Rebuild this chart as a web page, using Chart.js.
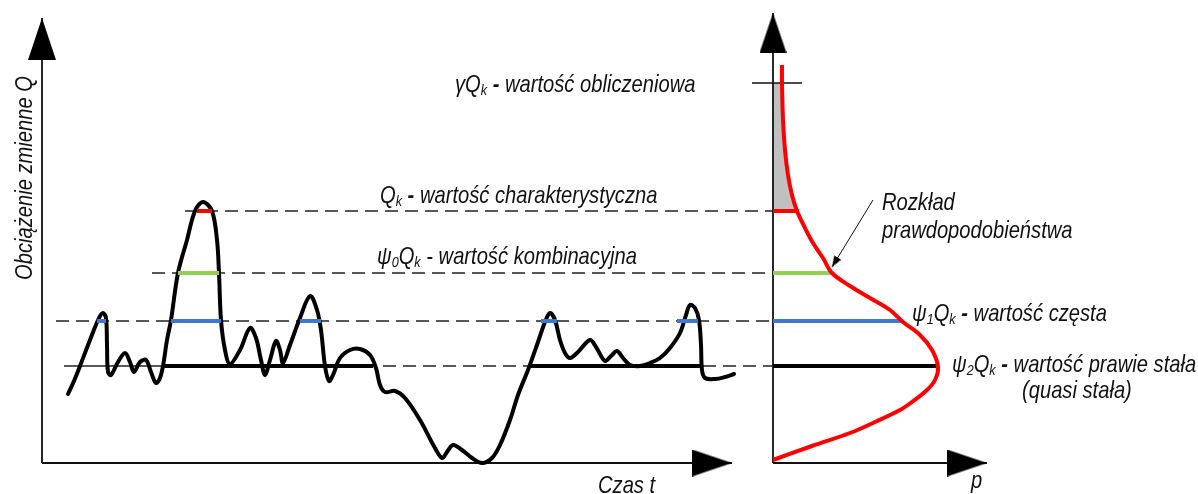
<!DOCTYPE html>
<html>
<head>
<meta charset="utf-8">
<script src="https://cdn.jsdelivr.net/npm/chart.js@4"></script>
<style>
  html, body { margin: 0; background: #fff; }
  #wrap { width: 1198px; height: 494px; position: relative; }
</style>
</head>
<body>
<div id="wrap"><canvas id="chart"></canvas></div>
<script>
// load history Q(t)
const seriesT = [26, 32, 38, 48, 57, 61, 64, 65, 66, 69, 76, 83, 88, 92, 98, 104, 109, 114, 118, 121,
  125, 129, 136, 145, 153, 161, 170, 175, 177, 179, 183, 188, 198, 208, 214, 219, 223, 228, 234, 238,
  241, 248, 258, 268, 275, 279, 283, 287, 291, 298, 308, 318, 328, 334, 338, 343, 353, 363, 378, 393,
  400, 405, 411, 420, 430, 440, 450, 458, 468, 476, 486, 496, 503, 508, 513, 518, 523, 528, 536, 548,
  554, 563, 569, 575, 581, 588, 598, 608, 618, 628, 638, 644, 648, 653, 657, 659, 660, 663, 673, 683, 692];
const seriesQ = [69, 82, 97, 123, 145, 150, 145, 118, 91, 88, 101, 110, 101, 91, 101, 103, 91, 80, 85, 97,
  123, 143, 190, 223, 252, 261, 252, 223, 190, 143, 113, 99, 113, 135, 125, 103, 88, 103, 122, 113,
  100, 118, 145, 167, 153, 133, 97, 82, 88, 105, 113, 114, 108, 95, 78, 71, 72, 65, 43, 15,
  5, 11, 18, 13, 5, 0, 5, 18, 43, 68, 93, 121, 141, 150, 143, 123, 110, 105, 111, 123,
  116, 102, 107, 112, 105, 98, 97, 100, 105, 115, 130, 148, 158, 155, 143, 118, 93, 85, 84, 86, 89];

// probability density of Q (p against Q)
const distP = [9, 9, 10, 12, 15, 19, 24, 32, 40, 50, 59, 77, 97, 117, 130, 147, 159, 165, 162, 154, 139, 127, 102, 77, 39, 0];
const distQ = [398, 380, 343, 313, 288, 268, 252, 235, 220, 205, 190, 177, 165, 153, 141, 128, 113, 96, 83, 73, 61, 53, 41, 30, 17, 3];

// representative values: design, characteristic, combination, frequent, quasi-permanent
const levelQ = [380, 252, 190, 142, 97];
const levelP = [null, 26, 59, 130, 165];
const dashFrom = [null, 143, 110, 14, 121];
const levelEnd = 731;
const quasiThinFrom = 22;

// stretches of the history lying on each level
const charSpans = [[155, 170]];
const combSpans = [[136, 177]];
const freqSpans = [[55, 64], [129, 179], [258, 279], [499, 515], [635, 656]];
const quasiSpans = [[121, 331], [488, 658]];

// axis extents
const timeAxisEnd = 690, loadAxisEnd = 445;
const pAxisEnd = 214, densityAxisEnd = 450;
const designTick = [-21, 29];
const pointerFrom = [100, 263], pointerTo = [59, 196];

const BLUE = '#4178cf', GREEN = '#92cf52', RED = '#ff0000', INK = '#111';

function hasFont(name) {
  const c = document.createElement('canvas').getContext('2d');
  const s = 'wartość charakterystyczna';
  c.font = '20px monospace';
  const a = c.measureText(s).width;
  c.font = '20px "' + name + '", monospace';
  return c.measureText(s).width !== a;
}
const narrow = hasFont('Liberation Sans Narrow');
const FAMILY = narrow ? '"Liberation Sans Narrow"' : '"Liberation Sans"';
const SX = narrow ? 1.02 : 0.84;

// arrow head with its tip in the middle of the image
function arrowHead(w, h) {
  const c = document.createElement('canvas');
  c.width = w; c.height = h * 2;
  const g = c.getContext('2d');
  g.fillStyle = '#000';
  g.beginPath();
  g.moveTo(w / 2, h);
  g.lineTo(w, h * 2);
  g.lineTo(0, h * 2);
  g.closePath();
  g.fill();
  return c;
}
const bigArrow = arrowHead(28, 42);
const bigArrowR = arrowHead(27, 40);
const smallArrow = arrowHead(8, 11);

const pts = (xs, ys) => xs.map((x, i) => ({ x: x, y: ys[i] }));

function seg(axis, x0, x1, q0, q1, color, width, dash, order) {
  return {
    xAxisID: axis,
    data: [{ x: x0, y: q0 }, { x: x1, y: q1 }],
    borderColor: color, borderWidth: width, borderDash: dash || [],
    pointRadius: 0, tension: 0, order: order, borderCapStyle: 'butt'
  };
}

function arrowLine(axis, from, to, img, rot, width) {
  return {
    xAxisID: axis,
    data: [{ x: from[0], y: from[1] }, { x: to[0], y: to[1] }],
    borderColor: INK, borderWidth: width, pointRadius: [0, 5],
    pointStyle: img, rotation: rot, pointBackgroundColor: '#000', pointBorderWidth: 0,
    tension: 0, order: 8
  };
}

const datasets = [];

// axes
datasets.push(arrowLine('x', [0, 0], [0, loadAxisEnd], bigArrow, 0, 1.8));
datasets.push(arrowLine('x', [0, 0], [timeAxisEnd, 0], bigArrowR, 90, 1.8));
datasets.push(arrowLine('p', [0, 0], [0, densityAxisEnd], bigArrowR, 0, 1.8));
datasets.push(arrowLine('p', [0, 0], [pAxisEnd, 0], bigArrowR, 90, 1.8));
datasets.push(seg('p', designTick[0], designTick[1], levelQ[0], levelQ[0], INK, 1.5, [], 8));

// pointer to the density curve
const pdx = pointerTo[0] - pointerFrom[0], pdy = -(pointerTo[1] - pointerFrom[1]);
datasets.push(arrowLine('p', pointerFrom, pointerTo, smallArrow, Math.atan2(pdx, -pdy) * 180 / Math.PI, 1));

// dashed level lines
for (let i = 1; i < levelQ.length; i++) {
  datasets.push(seg('x', dashFrom[i], levelEnd, levelQ[i], levelQ[i], '#222', 1.5, [13, 7], 7));
}
datasets.push(seg('x', quasiThinFrom, dashFrom[4], levelQ[4], levelQ[4], '#222', 1.6, [], 7));

// shaded tail above Qk
const tail = distQ.map((q, i) => ({ x: distP[i], y: q })).filter(d => d.y <= levelQ[0] && d.y >= levelQ[1]);
datasets.push({
  xAxisID: 'p', indexAxis: 'y', data: tail, borderWidth: 0, pointRadius: 0,
  backgroundColor: '#c0c0c0', fill: 'origin', tension: 0.35, order: 9
});

// right panel level bars
datasets.push(seg('p', 0, levelP[1], levelQ[1], levelQ[1], RED, 4, [], 3));
datasets.push(seg('p', 0, levelP[2], levelQ[2], levelQ[2], GREEN, 4, [], 3));
datasets.push(seg('p', 0, levelP[3], levelQ[3], levelQ[3], BLUE, 4, [], 3));
datasets.push(seg('p', 0, levelP[4], levelQ[4], levelQ[4], '#000', 4, [], 3));

// thick quasi-permanent stretches
quasiSpans.forEach(s => datasets.push(seg('x', s[0], s[1], levelQ[4], levelQ[4], '#000', 4, [], 4)));

// load history
datasets.push({
  xAxisID: 'x', data: pts(seriesT, seriesQ), borderColor: '#000', borderWidth: 4,
  pointRadius: 0, tension: 0.35, order: 2, borderJoinStyle: 'round', borderCapStyle: 'round'
});

// density
datasets.push({
  xAxisID: 'p', data: pts(distP, distQ), borderColor: RED, borderWidth: 4,
  pointRadius: 0, tension: 0.35, order: 2, borderJoinStyle: 'round'
});

// marks on the history
charSpans.forEach(s => datasets.push(seg('x', s[0], s[1], levelQ[1], levelQ[1], RED, 4, [], 0)));
combSpans.forEach(s => datasets.push(seg('x', s[0], s[1], levelQ[2], levelQ[2], GREEN, 4, [], 0)));
freqSpans.forEach(s => datasets.push(seg('x', s[0], s[1], levelQ[3], levelQ[3], BLUE, 4, [], 0)));

// text
const labels = [
  { axis: 'x', x: 413, q: 371, parts: [['γ'], ['Q'], ['k', 'sub'], [' - ', 'bold'], ['wartość obliczeniowa']] },
  { axis: 'x', x: 338, q: 260, parts: [['Q'], ['k', 'sub'], [' - ', 'bold'], ['wartość charakterystyczna']] },
  { axis: 'x', x: 335, q: 199, parts: [['ψ'], ['0', 'sub'], ['Q'], ['k', 'sub'], [' - '], ['wartość kombinacyjna']] },
  { axis: 'p', x: 139, q: 142, parts: [['ψ'], ['1', 'sub'], ['Q'], ['k', 'sub'], [' - ', 'bold'], ['wartość częsta']] },
  { axis: 'p', x: 179, q: 91, parts: [['ψ'], ['2', 'sub'], ['Q'], ['k', 'sub'], [' - ', 'bold'], ['wartość prawie stała']] },
  { axis: 'p', x: 249, q: 65, parts: [['(quasi stała)']] },
  { axis: 'p', x: 109, q: 253, parts: [['Rozkład']] },
  { axis: 'p', x: 109, q: 225, parts: [['prawdopodobieństwa']] },
  { axis: 'x', x: 556, q: -30, parts: [['Czas t']] },
  { axis: 'p', x: 198, q: -25, parts: [['p']] },
  { axis: 'x', x: -10, q: 285, rot: -90, center: true, parts: [['Obciążenie zmienne Q']] }
];
const SIZE = 24, SUB = 15;

function partFont(kind) {
  if (kind === 'sub') return 'italic ' + SUB + 'px ' + FAMILY;
  if (kind === 'bold') return 'italic bold ' + SIZE + 'px ' + FAMILY;
  return 'italic ' + SIZE + 'px ' + FAMILY;
}

const textPlugin = {
  id: 'texts',
  afterDatasetsDraw(chart) {
    const ctx = chart.ctx;
    labels.forEach(l => {
      const px = chart.scales[l.axis].getPixelForValue(l.x);
      const py = chart.scales.y.getPixelForValue(l.q);
      ctx.save();
      ctx.translate(px, py);
      if (l.rot) ctx.rotate(l.rot * Math.PI / 180);
      ctx.scale(SX, 1);
      ctx.fillStyle = INK;
      ctx.textBaseline = 'alphabetic';
      ctx.textAlign = 'left';
      let total = 0;
      l.parts.forEach(p => { ctx.font = partFont(p[1]); total += ctx.measureText(p[0]).width; });
      let cx = l.center ? -total / 2 : 0;
      l.parts.forEach(p => {
        ctx.font = partFont(p[1]);
        ctx.fillText(p[0], cx, p[1] === 'sub' ? 3 : 0);
        cx += ctx.measureText(p[0]).width;
      });
      ctx.restore();
    });
  }
};

new Chart(document.getElementById('chart'), {
  type: 'line',
  data: { datasets: datasets },
  options: {
    responsive: true,
    maintainAspectRatio: false,
    animation: false,
    events: [],
    layout: { padding: 0, autoPadding: false },
    elements: { point: { radius: 0 } },
    plugins: { legend: { display: false }, tooltip: { enabled: false } },
    scales: {
      x: { type: 'linear', axis: 'x', position: 'bottom', min: -42, max: 1156, display: false },
      p: { type: 'linear', axis: 'x', position: 'bottom', min: -773, max: 425, display: false },
      y: { type: 'linear', min: -31, max: 463, display: false }
    }
  },
  plugins: [textPlugin]
});
</script>
</body>
</html>
